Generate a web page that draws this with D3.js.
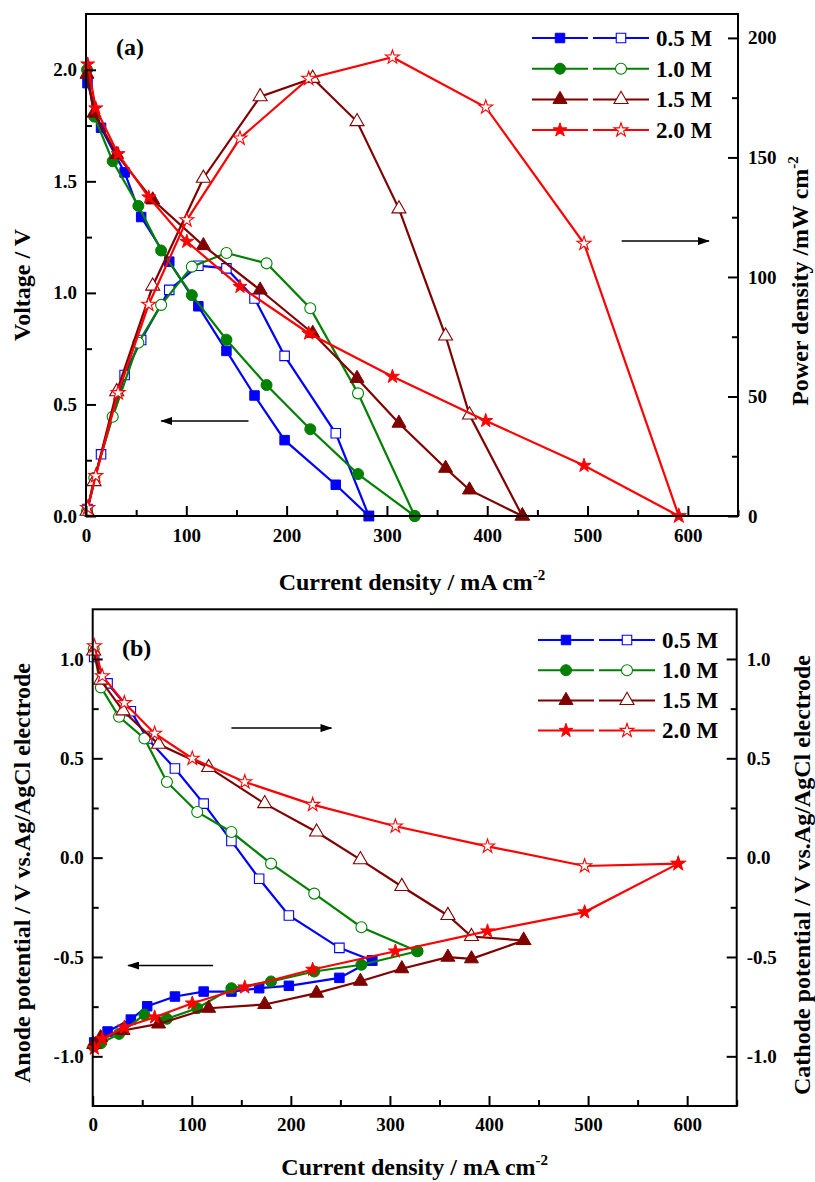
<!DOCTYPE html>
<html>
<head>
<meta charset="utf-8">
<script src="https://cdn.jsdelivr.net/npm/d3@7"></script>
<style>
  body { margin: 0; background: #fff; }
  text { font-family: "Liberation Serif", "Times New Roman", serif; font-weight: bold; fill: #000; }
</style>
</head>
<body>
<svg id="chart" width="815" height="1182"></svg>
<script>
// ---- data ----
var concentrations = ["0.5 M", "1.0 M", "1.5 M", "2.0 M"];

// current density, mA cm-2
var current05 = [1.5, 15, 38.5, 55, 83, 112, 140, 168, 198, 249, 282];
var current10 = [1, 8.3, 26.6, 52.2, 74.9, 105.5, 140, 180, 223.6, 271.2, 327.7];
var current15 = [1, 8, 30.6, 66.5, 117, 173.6, 226, 270.2, 312, 358.5, 382.3, 435];
var current20 = [1.7, 9.7, 32, 62.5, 100.5, 153.5, 222, 305.5, 398.5, 496.5, 591];

// (a) cell voltage, V
var voltage05 = [1.94, 1.74, 1.54, 1.34, 1.14, 0.94, 0.74, 0.54, 0.34, 0.14, 0];
var voltage10 = [2.0, 1.79, 1.59, 1.39, 1.19, 0.99, 0.79, 0.587, 0.389, 0.188, 0];
var voltage15 = [1.98, 1.806, 1.62, 1.417, 1.212, 1.013, 0.819, 0.617, 0.416, 0.214, 0.117, 0];
var voltage20 = [2.025, 1.828, 1.623, 1.429, 1.23, 1.028, 0.819, 0.625, 0.427, 0.226, 0];

// (a) power density, mW cm-2
var power05 = [2.9, 25.8, 59, 73.6, 94.6, 104.7, 103.6, 91, 67, 34.6, 0];
var power10 = [2, 16, 41.5, 72.5, 88.3, 104.3, 110, 105.7, 86.9, 51.3, 0];
var power15 = [2, 14.4, 52, 96.2, 141.3, 175.4, 183.1, 165, 128.5, 75.3, 42.3, 0];
var power20 = [3.4, 16.8, 51.5, 88.5, 123.8, 158, 183, 191.9, 171, 114, 0];

// (b) anode potential, V vs Ag/AgCl
var anode05 = [-0.93, -0.875, -0.815, -0.748, -0.699, -0.674, -0.674, -0.657, -0.645, -0.605, -0.518];
var anode10 = [-0.95, -0.934, -0.887, -0.79, -0.811, -0.758, -0.657, -0.623, -0.573, -0.539, -0.471];
var anode15 = [-0.94, -0.906, -0.87, -0.837, -0.758, -0.739, -0.682, -0.622, -0.559, -0.501, -0.509, -0.417];
var anode20 = [-0.96, -0.912, -0.854, -0.803, -0.733, -0.652, -0.563, -0.471, -0.37, -0.274, -0.03];

// (b) cathode potential, V vs Ag/AgCl
var cathode05 = [1.01, 0.877, 0.737, 0.60, 0.449, 0.272, 0.084, -0.106, -0.291, -0.454, -0.518];
var cathode10 = [1.05, 0.857, 0.709, 0.60, 0.381, 0.23, 0.129, -0.03, -0.181, -0.35, -0.471];
var cathode15 = [1.04, 0.894, 0.739, 0.571, 0.454, 0.272, 0.129, -0.01, -0.145, -0.291, -0.397, -0.417];
var cathode20 = [1.065, 0.914, 0.779, 0.625, 0.499, 0.381, 0.267, 0.158, 0.057, -0.042, -0.03];

// ticks
var xTicks = [0, 100, 200, 300, 400, 500, 600];
var voltTicks = [0, 0.5, 1.0, 1.5, 2.0];
var powerTicks = [0, 50, 100, 150, 200];
var potTicks = [-1.0, -0.5, 0.0, 0.5, 1.0];

// ---- styling ----
var colors = ["#0000ff", "#008000", "#800000", "#ff0000"];
var symbols = [d3.symbolSquare, d3.symbolCircle, d3.symbolTriangle, d3.symbolStar];
var symSize = [90, 95, 85, 60];

var currents = [current05, current10, current15, current20];
var voltages = [voltage05, voltage10, voltage15, voltage20];
var powers = [power05, power10, power15, power20];
var anodes = [anode05, anode10, anode15, anode20];
var cathodes = [cathode05, cathode10, cathode15, cathode20];

function zip(xs, ys) { return xs.map(function(v, i) { return [v, ys[i]]; }); }

var svg = d3.select("#chart");

svg.append("defs").append("marker")
    .attr("id", "arrow")
    .attr("viewBox", "0 0 12 8")
    .attr("refX", 11).attr("refY", 4)
    .attr("markerWidth", 12).attr("markerHeight", 8)
    .attr("markerUnits", "userSpaceOnUse")
    .attr("orient", "auto")
  .append("path")
    .attr("d", "M0,0L12,4L0,8Z")
    .attr("fill", "#000");

function fmt(d) {
    var s = d3.format(".1f")(d);
    return s.replace("\u2212", "-");
}

function drawPanel(p) {
    var g = svg.append("g");
    var x = d3.scaleLinear().domain([0, 650]).range([p.left, p.right]);
    var yL = d3.scaleLinear().domain(p.yLdomain).range([p.bottom, p.top]);
    var yR = d3.scaleLinear().domain(p.yRdomain).range([p.bottom, p.top]);

    // series
    p.series.forEach(function(s, i) {
        var lineL = d3.line().x(function(d) { return x(d[0]); }).y(function(d) { return yL(d[1]); });
        var lineR = d3.line().x(function(d) { return x(d[0]); }).y(function(d) { return yR(d[1]); });
        g.append("path").attr("d", lineL(s.left)).attr("fill", "none")
            .attr("stroke", colors[i]).attr("stroke-width", 2.2);
        g.append("path").attr("d", lineR(s.right)).attr("fill", "none")
            .attr("stroke", colors[i]).attr("stroke-width", 2.2);
        var sym = d3.symbol().type(symbols[i]).size(symSize[i]);
        g.selectAll(null).data(s.right).enter().append("path")
            .attr("d", sym)
            .attr("transform", function(d) { return "translate(" + x(d[0]) + "," + yR(d[1]) + ")"; })
            .attr("fill", "#fff").attr("stroke", colors[i]).attr("stroke-width", 1.1);
        g.selectAll(null).data(s.left).enter().append("path")
            .attr("d", sym)
            .attr("transform", function(d) { return "translate(" + x(d[0]) + "," + yL(d[1]) + ")"; })
            .attr("fill", colors[i]).attr("stroke", colors[i]).attr("stroke-width", 1);
    });

    // axes, ticks pointing inward
    var ax = g.append("g").attr("transform", "translate(0," + p.bottom + ")")
        .call(d3.axisBottom(x).tickValues(xTicks).tickSize(-10).tickPadding(p.xPad).tickFormat(d3.format("d")));
    var axm = g.append("g").attr("transform", "translate(0," + p.bottom + ")")
        .call(d3.axisBottom(x).tickValues(xTicks.map(function(d) { return d + 50; })).tickSize(-6).tickFormat(""));
    var al = g.append("g").attr("transform", "translate(" + p.left + ",0)")
        .call(d3.axisLeft(yL).tickValues(p.yLticks).tickSize(-10).tickPadding(p.yLPad).tickFormat(p.yLfmt));
    var alm = g.append("g").attr("transform", "translate(" + p.left + ",0)")
        .call(d3.axisLeft(yL).tickValues(p.yLminor).tickSize(-6).tickFormat(""));
    var ar = g.append("g").attr("transform", "translate(" + p.right + ",0)")
        .call(d3.axisRight(yR).tickValues(p.yRticks).tickSize(-10).tickPadding(p.yRPad).tickFormat(p.yRfmt));
    var arm = g.append("g").attr("transform", "translate(" + p.right + ",0)")
        .call(d3.axisRight(yR).tickValues(p.yRminor).tickSize(-6).tickFormat(""));
    [ax, axm, al, alm, ar, arm].forEach(function(a) {
        a.select(".domain").remove();
        a.selectAll("line").attr("stroke", "#000").attr("stroke-width", 2);
        a.selectAll("text").attr("font-size", 19)
            .attr("font-family", "'Liberation Serif', serif").attr("font-weight", "bold");
    });

    g.append("rect")
        .attr("x", p.left).attr("y", p.top)
        .attr("width", p.right - p.left).attr("height", p.bottom - p.top)
        .attr("fill", "none").attr("stroke", "#000").attr("stroke-width", 2);

    // panel tag
    g.append("text").attr("x", p.tagX).attr("y", p.tagY).attr("font-size", 24).text(p.tag);

    // legend
    concentrations.forEach(function(c, i) {
        var yy = p.legY + i * p.legDy;
        var x0 = p.legX;
        var sym = d3.symbol().type(symbols[i]).size(symSize[i]);
        g.append("line").attr("x1", x0).attr("x2", x0 + 56).attr("y1", yy).attr("y2", yy)
            .attr("stroke", colors[i]).attr("stroke-width", 2);
        g.append("line").attr("x1", x0 + 61).attr("x2", x0 + 117).attr("y1", yy).attr("y2", yy)
            .attr("stroke", colors[i]).attr("stroke-width", 2);
        g.append("path").attr("d", sym).attr("transform", "translate(" + (x0 + 28) + "," + yy + ")")
            .attr("fill", colors[i]).attr("stroke", colors[i]);
        g.append("path").attr("d", sym).attr("transform", "translate(" + (x0 + 89) + "," + yy + ")")
            .attr("fill", "#fff").attr("stroke", colors[i]).attr("stroke-width", 1.1);
        g.append("text").attr("x", x0 + 124).attr("y", yy).attr("dy", "0.34em")
            .attr("font-size", 23).text(c);
    });

    // arrows (in data coordinates)
    p.arrows.forEach(function(a) {
        var sc = a.axis === "L" ? yL : yR;
        g.append("line")
            .attr("x1", x(a.from)).attr("x2", x(a.to))
            .attr("y1", sc(a.y)).attr("y2", sc(a.y))
            .attr("stroke", "#000").attr("stroke-width", 1.5)
            .attr("marker-end", "url(#arrow)");
    });

    // axis titles
    var xt = g.append("text").attr("x", (p.left + p.right) / 2).attr("y", p.xTitleY)
        .attr("text-anchor", "middle").attr("font-size", 24);
    xt.append("tspan").text("Current density / mA cm");
    xt.append("tspan").attr("dy", -10).attr("font-size", 15).text("-2");

    var lt = g.append("text")
        .attr("transform", "translate(" + p.yLTitleX + "," + p.yLTitleY + ") rotate(-90)")
        .attr("text-anchor", "middle").attr("dy", "0.35em").attr("font-size", 24);
    lt.append("tspan").text(p.yLtitle);

    var rt = g.append("text")
        .attr("transform", "translate(" + p.yRTitleX + "," + p.yRTitleY + ") rotate(-90)")
        .attr("text-anchor", "middle").attr("dy", "0.35em").attr("font-size", 24);
    rt.append("tspan").text(p.yRtitle);
    if (p.yRsup) rt.append("tspan").attr("dy", -10).attr("font-size", 15).text(p.yRsup);
}

drawPanel({
    left: 86, right: 738, top: 14, bottom: 516,
    yLdomain: [0, 2.25], yRdomain: [0, 210],
    yLticks: voltTicks, yLminor: [0.25, 0.75, 1.25, 1.75],
    yRticks: powerTicks, yRminor: [25, 75, 125, 175],
    yLfmt: fmt, yRfmt: d3.format("d"),
    xPad: 13, yLPad: 9, yRPad: 10,
    series: [0, 1, 2, 3].map(function(i) {
        return { left: zip(currents[i], voltages[i]), right: zip(currents[i], powers[i]) };
    }),
    tag: "(a)", tagX: 116, tagY: 55,
    legX: 532, legY: 38, legDy: 30.7,
    arrows: [
        { axis: "L", y: 0.426, from: 162, to: 75 },
        { axis: "R", y: 115, from: 534, to: 621 }
    ],
    xTitleY: 590,
    yLtitle: "Voltage / V", yLTitleX: 22, yLTitleY: 285,
    yRtitle: "Power density /mW cm", yRsup: "-2", yRTitleX: 800, yRTitleY: 281
});

drawPanel({
    left: 92.7, right: 736.7, top: 609.3, bottom: 1106,
    yLdomain: [-1.25, 1.25], yRdomain: [-1.25, 1.25],
    yLticks: potTicks, yLminor: [-0.75, -0.25, 0.25, 0.75],
    yRticks: potTicks, yRminor: [-0.75, -0.25, 0.25, 0.75],
    yLfmt: fmt, yRfmt: fmt,
    xPad: 12, yLPad: 9, yRPad: 10,
    series: [0, 1, 2, 3].map(function(i) {
        return { left: zip(currents[i], anodes[i]), right: zip(currents[i], cathodes[i]) };
    }),
    tag: "(b)", tagX: 122, tagY: 656,
    legX: 538, legY: 640, legDy: 30.2,
    arrows: [
        { axis: "R", y: 0.652, from: 140, to: 241 },
        { axis: "L", y: -0.543, from: 121.5, to: 35.7 }
    ],
    xTitleY: 1175,
    yLtitle: "Anode potential / V vs.Ag/AgCl electrode", yLTitleX: 22, yLTitleY: 873,
    yRtitle: "Cathode potential / V vs.Ag/AgCl electrode", yRTitleX: 802, yRTitleY: 875
});
</script>
</body>
</html>
